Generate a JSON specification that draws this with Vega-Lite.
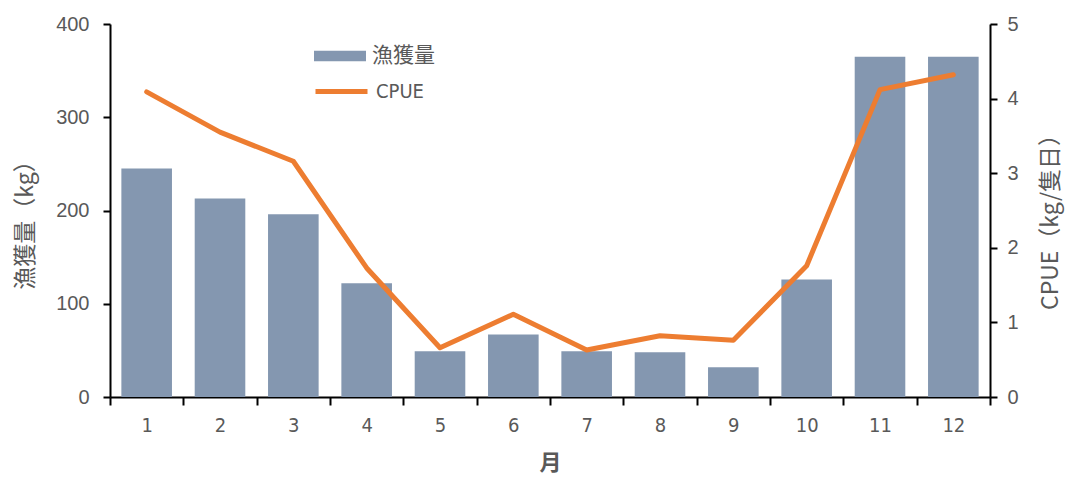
{
  "$schema": "https://vega.github.io/schema/vega-lite/v6.json",
  "width": 880,
  "height": 373,
  "autosize": {"type": "none"},
  "padding": {"left": 110, "top": 24, "right": 75, "bottom": 82},
  "background": "white",
  "config": {
    "view": {"stroke": null},
    "axis": {
      "grid": false,
      "domainColor": "#000000",
      "domainWidth": 2,
      "tickColor": "#000000",
      "tickWidth": 2,
      "tickSize": 7,
      "labelFont": "Liberation Sans",
      "labelFontSize": 20,
      "labelColor": "#595959",
      "titleFont": "Noto Sans CJK JP",
      "titleFontSize": 23,
      "titleColor": "#595959",
      "titleFontWeight": "normal"
    },
    "legend": {
      "labelFont": "Noto Sans CJK JP",
      "labelFontSize": 21,
      "labelColor": "#595959"
    }
  },
  "data": {
    "values": [
      {"month": "1", "catch": 245, "cpue": 4.09},
      {"month": "2", "catch": 213, "cpue": 3.55},
      {"month": "3", "catch": 196, "cpue": 3.16},
      {"month": "4", "catch": 122, "cpue": 1.73},
      {"month": "5", "catch": 49, "cpue": 0.66},
      {"month": "6", "catch": 67, "cpue": 1.11},
      {"month": "7", "catch": 49, "cpue": 0.63},
      {"month": "8", "catch": 48, "cpue": 0.82},
      {"month": "9", "catch": 32, "cpue": 0.76},
      {"month": "10", "catch": 126, "cpue": 1.76},
      {"month": "11", "catch": 365, "cpue": 4.12},
      {"month": "12", "catch": 365, "cpue": 4.32}
    ]
  },
  "encoding": {
    "x": {
      "field": "month",
      "type": "ordinal",
      "sort": null,
      "scale": {"paddingInner": 0, "paddingOuter": 0},
      "axis": {
        "title": "月",
        "titleFontWeight": "bold",
        "titleFontSize": 22,
        "titlePadding": 17,
        "labelAngle": 0,
        "labelPadding": 10,
        "labelFont": "DejaVu Sans Condensed, Liberation Sans, sans-serif",
        "labelFontSize": 20,
        "tickBand": "extent",
        "tickSize": 8
      }
    }
  },
  "layer": [
    {
      "mark": {"type": "bar", "width": {"band": 0.69}},
      "encoding": {
        "y": {
          "field": "catch",
          "type": "quantitative",
          "scale": {"domain": [0, 400]},
          "axis": {
            "title": "漁獲量（kg）",
            "values": [0, 100, 200, 300, 400],
            "labelPadding": 14,
            "titleX": -85,
            "titleY": 195,
            "titleAngle": -90,
            "titleAlign": "center",
            "titleBaseline": "middle"
          }
        },
        "fill": {
          "datum": "漁獲量",
          "scale": {"range": ["#8497B0"]},
          "legend": {
            "title": null,
            "orient": "none",
            "legendX": 204,
            "legendY": 6,
            "symbolType": "M-1,-0.2H1V0.2H-1Z",
            "symbolSize": 2704,
            "symbolStrokeWidth": 0,
            "labelOffset": 6
          }
        }
      }
    },
    {
      "mark": {"type": "line", "strokeWidth": 5, "strokeCap": "round", "strokeJoin": "round"},
      "encoding": {
        "y": {
          "field": "cpue",
          "type": "quantitative",
          "scale": {"domain": [0, 5]},
          "axis": {
            "orient": "right",
            "title": "CPUE（kg/隻日）",
            "values": [0, 1, 2, 3, 4, 5],
            "labelPadding": 10,
            "titleX": 60,
            "titleY": 192,
            "titleAngle": -90,
            "titleAlign": "center",
            "titleBaseline": "middle"
          }
        },
        "stroke": {
          "datum": "CPUE",
          "scale": {"range": ["#ED7D31"]},
          "legend": {
            "title": null,
            "orient": "none",
            "legendX": 203,
            "legendY": 39,
            "symbolType": "stroke",
            "symbolSize": 2704,
            "symbolStrokeWidth": 5,
            "labelFont": "DejaVu Sans Condensed, Liberation Sans, sans-serif",
            "labelFontSize": 20,
            "labelOffset": 6
          }
        }
      }
    }
  ],
  "resolve": {"scale": {"y": "independent"}}
}
